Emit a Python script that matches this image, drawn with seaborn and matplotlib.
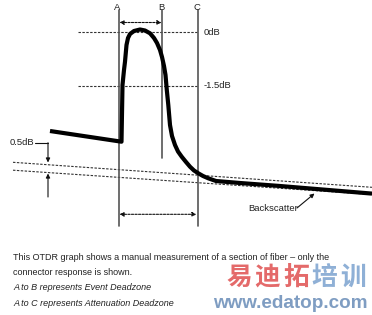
import matplotlib
matplotlib.use("Agg")
import matplotlib.pyplot as plt
import seaborn as sns
import pandas as pd

sns.set_theme(style="white")
plt.rcParams['font.family'] = ['Liberation Sans', 'DejaVu Sans']

# OTDR trace (pixel coordinates, y downwards)
trace_x = [50, 121.5, 122.5, 124, 125, 126.5, 128, 130, 134, 140, 145, 150, 154, 157,
           160, 162, 164, 165.5, 166.8, 168.3, 170, 172, 175, 178, 181.7, 186, 190,
           194, 198.3, 203, 208.3, 216, 240, 280, 320, 372]
trace_y = [131, 141.7, 85, 70, 61.7, 45, 38, 34, 31, 29.5, 30.5, 33.3, 38, 43,
           50, 57, 66, 75, 90, 105, 125, 136, 145, 151.5, 156.7, 162, 166.7,
           170.5, 173.3, 176, 178.3, 181, 183, 186, 189.3, 193.6]

markers = ["A", "B", "C"]
marker_x = [118.5, 162.3, 198.3]
marker_bottom = [226, 158, 226]

level_labels = ["0dB", "-1.5dB"]
level_y = [32.3, 86]

# backscatter reference lines (x0, y0, x1, y1)
ref_lines = [(13, 162.3, 372, 187.3), (13, 170.2, 372, 194.5)]

caption = ["This OTDR graph shows a manual measurement of a section of fiber \u2013 only the",
           "connector response is shown."]
notes = ["A to B represents Event Deadzone", "A to C represents Attenuation Deadzone"]

fig = plt.figure(figsize=(3.72, 3.15), dpi=100)
ax = fig.add_axes([0, 0, 1, 1])

txt = "#222222"

# dashed reference lines
for (x0, y0, x1, y1) in ref_lines:
    ax.plot([x0, x1], [y0, y1], ls=(0, (2.2, 1.3)), lw=0.8, color="#333333")
for y in level_y:
    ax.plot([78, 197], [y, y], ls=(0, (2.2, 1.3)), lw=0.8, color="#333333")

# vertical markers
for lab, x, yb in zip(markers, marker_x, marker_bottom):
    ax.plot([x, x], [10, yb], color="#555555", lw=1.2)
    ax.text(x - 1, 8, lab, ha="center", va="center", fontsize=6.8, color=txt)

# trace
df = pd.DataFrame({"x": trace_x, "y": trace_y})
sns.lineplot(data=df, x="x", y="y", sort=False, estimator=None, color="black",
             lw=3.0, ax=ax, solid_joinstyle="round", solid_capstyle="butt")
ax.set_xlim(0, 372)
ax.set_ylim(315, 0)
ax.axis("off")

for lab, y in zip(level_labels, level_y):
    ax.text(204, y, lab, ha="left", va="center", fontsize=6.8, color=txt)

arrow_kw = dict(arrowstyle="-|>", color="#111111", lw=0.8, mutation_scale=6,
                shrinkA=0, shrinkB=0)
dash_arrow = dict(arrowstyle="<|-|>", color="#111111", lw=0.8, mutation_scale=6,
                  shrinkA=0, shrinkB=0, ls=(0, (2, 1.2)))
# A-B and A-C arrows
ax.annotate("", xy=(161.5, 22.5), xytext=(119.5, 22.5), arrowprops=dash_arrow)
ax.annotate("", xy=(196.5, 214.3), xytext=(119.5, 214.3), arrowprops=dash_arrow)

# 0.5dB indicator
ax.text(10, 142.7, "0.5dB", ha="left", va="center", fontsize=6.8, color=txt)
ax.plot([35, 48], [142.7, 142.7], color="#111111", lw=0.8)
ax.annotate("", xy=(48, 162.5), xytext=(48, 142.7), arrowprops=arrow_kw)
ax.annotate("", xy=(48, 173.5), xytext=(48, 197), arrowprops=arrow_kw)

# backscatter label
ax.text(248, 208.5, "Backscatter", ha="left", va="center", fontsize=6.8, color=txt)
ax.annotate("", xy=(314.5, 193.5), xytext=(297, 208), arrowprops=arrow_kw)

# caption
fs = 6.5
ax.text(13, 258, caption[0], ha="left", va="center", fontsize=fs, color=txt)
ax.text(13, 272.5, caption[1], ha="left", va="center", fontsize=fs, color=txt)
ax.text(13, 288, notes[0], ha="left", va="center", fontsize=fs, color=txt, style="italic")
ax.text(13, 303, notes[1], ha="left", va="center", fontsize=fs, color=txt, style="italic")

# watermark
wm_chars = ["易", "迪", "拓", "培", "训"]
wm_cols = ["#e46a6a", "#e46a6a", "#e46a6a", "#8fb0d6", "#8fb0d6"]
for i, (ch, c) in enumerate(zip(wm_chars, wm_cols)):
    ax.text(239 + i * 28.5, 277.5, ch, ha="center", va="center", fontsize=18.5,
            color=c, fontweight="black", family=["Noto Sans CJK SC", "DejaVu Sans"])
ax.text(290, 304, "www.edatop.com", ha="center", va="center", fontsize=13.6,
        color="#7f9dc2", fontweight="bold")

fig.savefig("out.png", dpi=100)
